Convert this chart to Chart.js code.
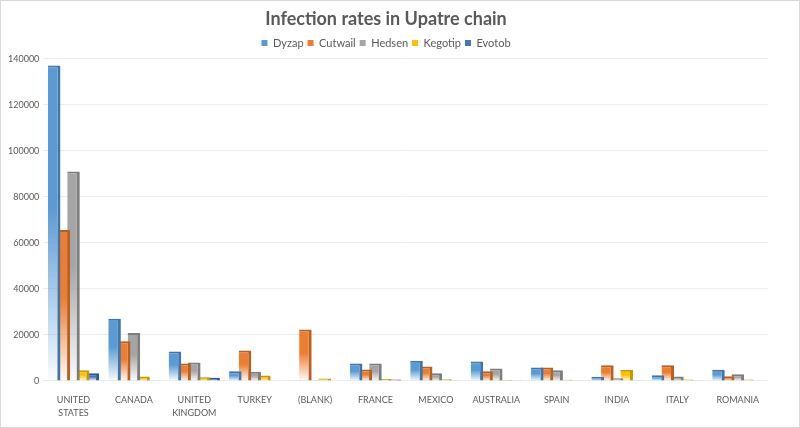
<!DOCTYPE html>
<html><head><meta charset="utf-8">
<script src="https://cdn.jsdelivr.net/npm/chart.js@4/dist/chart.umd.min.js"></script>
<style>
html,body{margin:0;padding:0;background:#fff;}
#wrap{position:absolute;left:0;top:0;width:798px;height:426px;border:1px solid #d9d9d9;background:#fff;}
canvas{display:block;}
</style></head>
<body><div id="wrap"><canvas id="c" width="798" height="426"></canvas></div>
<script>
const categories = [["UNITED","STATES"],"CANADA",["UNITED","KINGDOM"],"TURKEY","(BLANK)","FRANCE","MEXICO","AUSTRALIA","SPAIN","INDIA","ITALY","ROMANIA"];
const seriesNames = ["Dyzap","Cutwail","Hedsen","Kegotip","Evotob"];
const dyzap   = [137000, 27000, 12800, 4200,  300, 7600, 8800, 8400, 5800, 1800, 2500, 4800];
const cutwail = [ 65500, 17200,  7600, 13200, 22300, 5000, 6300, 4200, 5800, 6800, 6800, 2000];
const hedsen  = [ 91000, 20800,  8000, 4000,  300, 7600, 3300, 5400, 4600, 1200, 1900, 2900];
const kegotip = [  4600,  1900,  1600, 2300, 1000, 800,  700,  400,  500, 4800,  600,  600];
const evotob  = [  3300,   300,  1400,  0,     0,  600,  300,  300,  300,  300,  300,    0];
const yTicks = [0,20000,40000,60000,80000,100000,120000,140000];

const colors = ["#5B9BD5","#ED7D31","#A5A5A5","#FFC000","#4472C4"];
const darks  = ["#3F75A8","#B85F22","#7D7D7D","#C79600","#2F5597"];
const values = [dyzap,cutwail,hedsen,kegotip,evotob];

function hexA(h,a){const n=parseInt(h.slice(1),16);return `rgba(${n>>16&255},${n>>8&255},${n&255},${a})`;}
function grad(i){
  return function(ctx){
    const chart=ctx.chart; const area=chart.chartArea;
    if(!area || ctx.type!=='data') return colors[i];
    const ys=chart.scales.y; const v=ctx.raw||0;
    const top=ys.getPixelForValue(v), bot=ys.getPixelForValue(0);
    if(bot-top<1) return colors[i];
    const g=chart.ctx.createLinearGradient(0,top,0,bot);
    g.addColorStop(0,colors[i]);
    g.addColorStop(0.45,colors[i]);
    g.addColorStop(1,hexA(colors[i],0.03));
    return g;
  };
}

const datasets = seriesNames.map((n,i)=>({
  label:n, data:values[i],
  backgroundColor:grad(i),
  borderColor:darks[i],
  borderWidth:{top:2,right:3,left:0,bottom:0},
  borderSkipped:false,
  categoryPercentage:0.8, barPercentage:1.3
}));

new Chart(document.getElementById('c'),{
  type:'bar',
  data:{labels:categories,datasets},
  options:{
    responsive:false, animation:false,
    layout:{padding:{left:3,right:31,top:0,bottom:-6}},
    plugins:{
      title:{display:true,text:'Infection rates in Upatre chain',color:'#595959',
        font:{family:'Lato',size:18,weight:'bold'},padding:{top:7,bottom:4}},
      legend:{display:true,position:'top',
        labels:{color:'#595959',font:{family:'Lato',size:11},boxWidth:6,boxHeight:6,padding:4,
          generateLabels(chart){return seriesNames.map((n,i)=>({text:n,fillStyle:colors[i],strokeStyle:colors[i],lineWidth:0,datasetIndex:i,fontColor:'#595959'}));}}},
      tooltip:{enabled:false}
    },
    scales:{
      x:{grid:{display:false,drawTicks:false},border:{display:false},
        ticks:{color:'#595959',font:{family:'Lato',size:9,lineHeight:1.45},maxRotation:0,autoSkip:false,padding:13}},
      y:{min:0,max:140000,
        afterBuildTicks(s){s.ticks=yTicks.map(v=>({value:v}));},
        grid:{color:'#ececec',drawTicks:false},border:{display:false},
        ticks:{color:'#595959',font:{family:'Lato',size:9,lineHeight:0.8},padding:4,callback:v=>String(v)}}
    }
  }
});
</script></body></html>
